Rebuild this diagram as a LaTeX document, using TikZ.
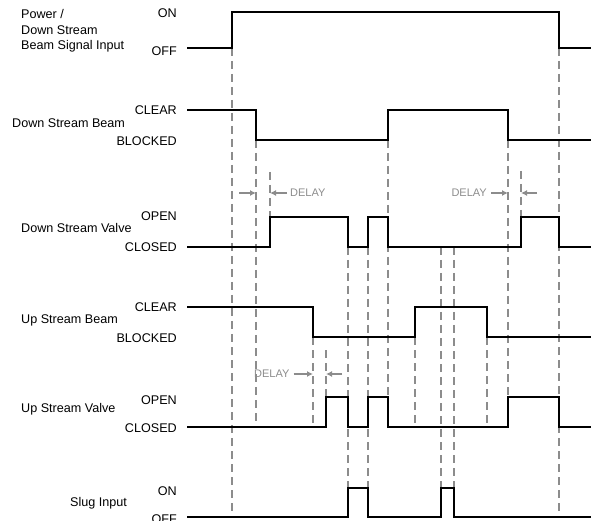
\documentclass[tikz,border=0pt]{standalone}
\usepackage{fontspec}
\setmainfont{Liberation Sans}
\usetikzlibrary{arrows.meta}
\definecolor{tmGray}{RGB}{140,140,140}
\begin{document}
\begin{tikzpicture}[x=1pt,y=-1pt,
    tmSig/.style={line width=1.8pt,black,line join=miter},
    tmDash/.style={line width=1.7pt,tmGray,dash pattern=on 8pt off 5pt},
    tmArr/.style={-{Latex[length=6pt,width=6pt]},line width=1.6pt,tmGray},
    tmLvl/.style={anchor=east,inner sep=0pt,font=\fontsize{12.6}{15}\selectfont},
    tmLbl/.style={anchor=west,inner sep=0pt,align=left,font=\fontsize{12.6}{15.5}\selectfont},
    tmDly/.style={inner sep=0pt,text=tmGray,font=\fontsize{11}{13}\selectfont},
]
\useasboundingbox (0,0) rectangle (597,521);
% Signal names
\node[tmLbl] (pwrLbl) at (21,31) {Power /\\Down Stream\\Beam Signal Input};
\node[tmLbl] (dsbLbl) at (12,123) {Down Stream Beam};
\node[tmLbl] (dsvLbl) at (21,228) {Down Stream Valve};
\node[tmLbl] (usbLbl) at (21,320) {Up Stream Beam};
\node[tmLbl] (usvLbl) at (21,409) {Up Stream Valve};
\node[tmLbl] (slgLbl) at (70,503) {Slug Input};
% Levels
\node[tmLvl] (pwrHi) at (177,13) {ON};
\node[tmLvl] (pwrLo) at (177,51) {OFF};
\node[tmLvl] (dsbHi) at (177,110) {CLEAR};
\node[tmLvl] (dsbLo) at (177,141) {BLOCKED};
\node[tmLvl] (dsvHi) at (177,216) {OPEN};
\node[tmLvl] (dsvLo) at (177,247) {CLOSED};
\node[tmLvl] (usbHi) at (177,307) {CLEAR};
\node[tmLvl] (usbLo) at (177,338) {BLOCKED};
\node[tmLvl] (usvHi) at (177,400) {OPEN};
\node[tmLvl] (usvLo) at (177,428) {CLOSED};
\node[tmLvl] (slgHi) at (177,491) {ON};
\node[tmLvl] (slgLo) at (177,519) {OFF};
% Edge markers
\draw[tmDash] (232,48) -- (232,517);
\draw[tmDash] (256,140) -- (256,427);
\draw[tmDash] (270,172) -- (270,247);
\draw[tmDash] (313,337) -- (313,427);
\draw[tmDash] (326,350) -- (326,397);
\draw[tmDash] (348,247) -- (348,488);
\draw[tmDash] (368,247) -- (368,488);
\draw[tmDash] (388,140) -- (388,427);
\draw[tmDash] (415,337) -- (415,427);
\draw[tmDash] (441,247) -- (441,488);
\draw[tmDash] (454,247) -- (454,488);
\draw[tmDash] (487,337) -- (487,427);
\draw[tmDash] (508,140) -- (508,397);
\draw[tmDash] (521,171) -- (521,217);
\draw[tmDash] (559,48) -- (559,517);
% Waveforms
\draw[tmSig] (187,48) -- (232,48) -- (232,12) -- (559,12) -- (559,48) -- (591,48);
\draw[tmSig] (187,110) -- (256,110) -- (256,140) -- (388,140) -- (388,110) -- (508,110) -- (508,140) -- (591,140);
\draw[tmSig] (187,247) -- (270,247) -- (270,217) -- (348,217) -- (348,247) -- (368,247) -- (368,217) -- (388,217) -- (388,247) -- (521,247) -- (521,217) -- (559,217) -- (559,247) -- (591,247);
\draw[tmSig] (187,307) -- (313,307) -- (313,337) -- (415,337) -- (415,307) -- (487,307) -- (487,337) -- (591,337);
\draw[tmSig] (187,427) -- (326,427) -- (326,397) -- (348,397) -- (348,427) -- (368,427) -- (368,397) -- (388,397) -- (388,427) -- (508,427) -- (508,397) -- (559,397) -- (559,427) -- (591,427);
\draw[tmSig] (187,517) -- (348,517) -- (348,488) -- (368,488) -- (368,517) -- (441,517) -- (441,488) -- (454,488) -- (454,517) -- (591,517);
% Delays
\coordinate (dlyA1) at (256,193);
\coordinate (dlyA2) at (270,193);
\coordinate (dlyB1) at (508,193);
\coordinate (dlyB2) at (521,193);
\coordinate (dlyC1) at (313,374);
\coordinate (dlyC2) at (326,374);
\node[tmDly,anchor=west] (dlyA) at (290,193) {DELAY};
\node[tmDly,anchor=east] (dlyB) at (487,193) {DELAY};
\node[tmDly,anchor=west] (dlyC) at (254,374) {DELAY};
\draw[tmArr] (239,193) -- (dlyA1);
\draw[tmArr] ([xshift=-3pt]dlyA.west) -- (dlyA2);
\draw[tmArr] ([xshift=4pt]dlyB.east) -- (dlyB1);
\draw[tmArr] (537,193) -- (dlyB2);
\draw[tmArr] ([xshift=4pt]dlyC.east) -- (dlyC1);
\draw[tmArr] (342,374) -- (dlyC2);
\end{tikzpicture}
\end{document}
